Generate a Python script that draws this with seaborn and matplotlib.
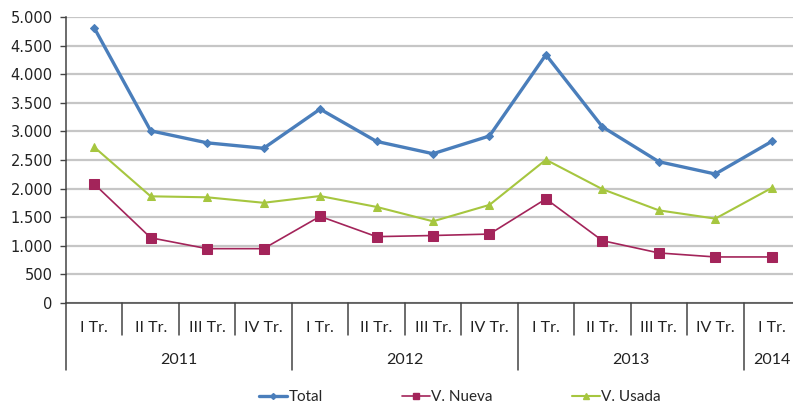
import matplotlib
matplotlib.use("Agg")
import matplotlib.pyplot as plt
import matplotlib.transforms as mtransforms
from matplotlib.ticker import FuncFormatter
from matplotlib.lines import Line2D
import seaborn as sns
import pandas as pd
import numpy as np

# Datos (compraventas de vivienda por trimestre)
trimestres = ["I Tr.", "II Tr.", "III Tr.", "IV Tr.",
              "I Tr.", "II Tr.", "III Tr.", "IV Tr.",
              "I Tr.", "II Tr.", "III Tr.", "IV Tr.",
              "I Tr."]
anios = ["2011", "2012", "2013", "2014"]
trimestres_por_anio = [4, 4, 4, 1]

total = [4810, 3010, 2800, 2705, 3390, 2825, 2610, 2920, 4340, 3080, 2470, 2255, 2825]
v_nueva = [2080, 1140, 950, 950, 1515, 1160, 1180, 1205, 1820, 1090, 875, 805, 805]
v_usada = [2725, 1865, 1848, 1752, 1870, 1680, 1428, 1715, 2505, 1990, 1620, 1475, 2012]

series = ["Total", "V. Nueva", "V. Usada"]
colores = {"Total": "#4a7ebb", "V. Nueva": "#a3245a", "V. Usada": "#a6c63f"}
marcadores = {"Total": "D", "V. Nueva": "s", "V. Usada": "^"}
grosores = {"Total": 2.4, "V. Nueva": 1.2, "V. Usada": 1.5}
tamanos = {"Total": 4.5, "V. Nueva": 6.5, "V. Usada": 6}

df = pd.DataFrame({"idx": np.arange(len(total)),
                   "Total": total, "V. Nueva": v_nueva, "V. Usada": v_usada})
largo = df.melt(id_vars="idx", var_name="serie", value_name="valor")

sns.set_style("white")
plt.rcParams['font.family'] = ['Lato', 'DejaVu Sans']
fuente_cat = 11.5
fuente_leyenda = 11

fig = plt.figure(figsize=(7.93, 4.07), dpi=100)
ax = fig.add_axes([66 / 793, 104 / 407, 734 / 793, 286 / 407])

for s in series:
    sub = largo[largo["serie"] == s]
    sns.lineplot(data=sub, x="idx", y="valor", ax=ax, color=colores[s],
                 linewidth=grosores[s], marker=marcadores[s],
                 markersize=tamanos[s], markeredgecolor=colores[s],
                 legend=False, zorder=3)

n = len(total)
ax.set_xlim(-0.5, n - 0.5)
ax.set_ylim(0, 5000)
ax.set_yticks(np.arange(0, 5001, 500))
ax.yaxis.set_major_formatter(FuncFormatter(lambda v, p: f"{int(v):,}".replace(",", ".")))
ax.tick_params(axis="y", length=4.5, width=1, color="#444444",
               left=True, direction="out", pad=5, labelcolor="#222222")
for lab in ax.get_yticklabels():
    lab.set_family("DejaVu Sans")
    lab.set_fontsize(10.5)
ax.set_xticks([])
ax.set_xlabel("")
ax.set_ylabel("")
ax.grid(axis="y", color="#c6c6c6", linewidth=1.6)
for lado in ["top", "right"]:
    ax.spines[lado].set_visible(False)
for lado in ["left", "bottom"]:
    ax.spines[lado].set_color("#444444")
    ax.spines[lado].set_linewidth(1.1)

# eje de categorias en dos niveles
trans = mtransforms.blended_transform_factory(ax.transData, ax.transAxes)
alto = 286.0
y_sep1 = -32 / alto
y_sep2 = -67 / alto
y_lab1 = -25 / alto
y_lab2 = -57 / alto

limites_anio = np.cumsum([0] + trimestres_por_anio) - 0.5
for i in range(n + 1):
    b = i - 0.5
    es_anio = np.any(np.isclose(limites_anio, b))
    ax.plot([b, b], [0, y_sep2 if es_anio else y_sep1], transform=trans,
            color="#444444", linewidth=1.1, clip_on=False)
for i, t in enumerate(trimestres):
    ax.text(i, y_lab1, t, transform=trans, ha="center", va="center",
            fontsize=fuente_cat, color="#222222")
for j, a in enumerate(anios):
    centro = (limites_anio[j] + limites_anio[j + 1]) / 2
    ax.text(centro, y_lab2, a, transform=trans, ha="center", va="center",
            fontsize=fuente_cat, color="#222222")

handles = [Line2D([0], [0], color=colores[s], linewidth=grosores[s],
                  marker=marcadores[s], markersize=tamanos[s] - 1.5) for s in series]
fig.legend(handles, series, loc="center", bbox_to_anchor=(460 / 793, 10 / 407), ncol=3,
           frameon=False, fontsize=fuente_leyenda, columnspacing=5.2, handlelength=1.8,
           handletextpad=0.1)

fig.savefig("out.png", dpi=100)
